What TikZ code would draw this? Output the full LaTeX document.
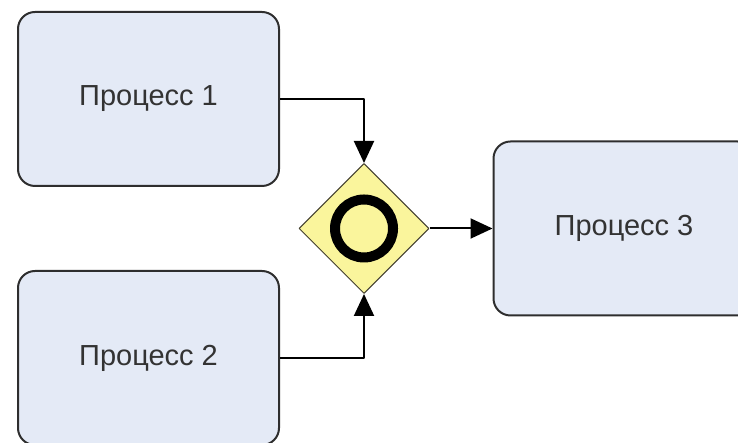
\documentclass[tikz,border=0pt]{standalone}
\usepackage{fontspec}
\setmainfont{Liberation Sans}
\usetikzlibrary{arrows.meta, shapes.geometric}
\definecolor{fondproc}{HTML}{E4EAF6}
\definecolor{fondporte}{HTML}{FAF59C}
\definecolor{bordgris}{HTML}{2E2E2E}

\begin{document}
\begin{tikzpicture}[x=0.5pt, y=0.5pt, line join=round,
  processus/.style={draw=bordgris, line width=1pt, fill=fondproc, rounded corners=8.5pt,
    minimum width=130.5pt, minimum height=87pt, inner sep=0pt,
    font=\fontsize{14.5}{17}\selectfont, text=black!80},
  porte/.style={diamond, draw=black!70!olive, line width=0.5pt, fill=fondporte,
    minimum size=65pt, inner sep=0pt},
  fleche/.style={line width=1pt, -{Triangle[length=11pt, width=10pt]}}]
  % Cadre de l'image
  \clip (0,0) rectangle (738,443);
  % Processus
  \node[processus] (proc1) at (148.5,344) {Процесс 1};
  \node[processus] (proc2) at (148.5,85) {Процесс 2};
  \node[processus] (proc3) at (624,214.5) {Процесс 3};
  % Porte de jonction
  \node[porte] (porte) at (364,214.5) {};
  \draw[line width=5pt] (porte.center) circle (14.5pt);
  % Liaisons
  \draw[fleche] (proc1.east) -| (porte.north);
  \draw[fleche] (proc2.east) -| (porte.south);
  \draw[fleche] (porte.east) -- (proc3.west);
\end{tikzpicture}
\end{document}
